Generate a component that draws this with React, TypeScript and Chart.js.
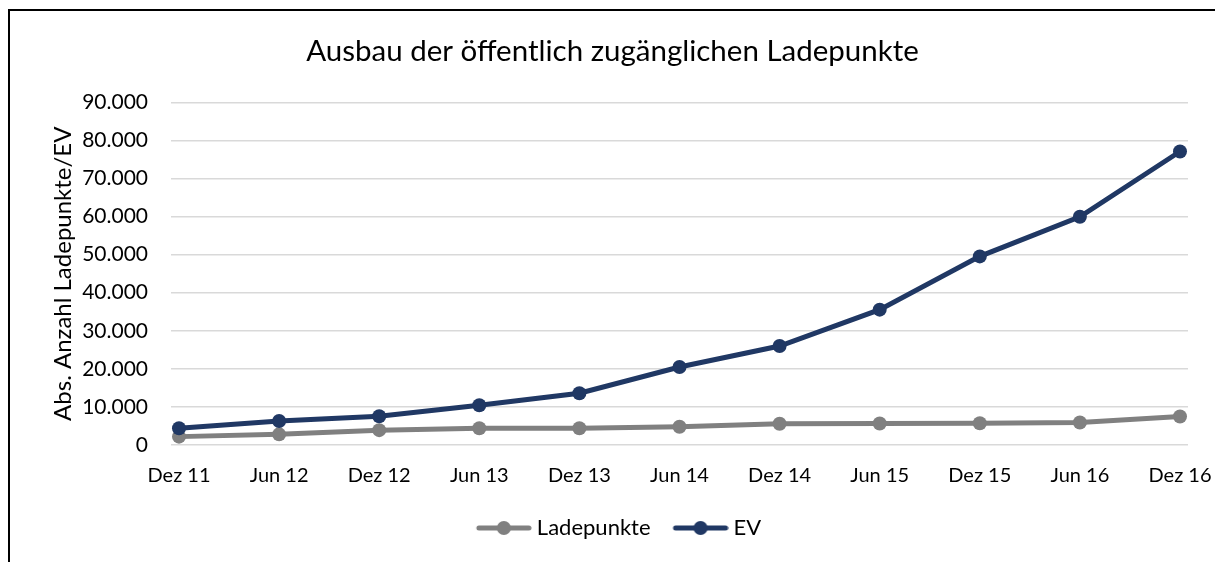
import React, { useEffect, useRef } from "react";
import { Chart, registerables } from "chart.js";

Chart.register(...registerables);

const categories = ["Dez 11", "Jun 12", "Dez 12", "Jun 13", "Dez 13", "Jun 14", "Dez 14", "Jun 15", "Dez 15", "Jun 16", "Dez 16"];
const ladepunkte = [2200, 2800, 3900, 4400, 4400, 4800, 5600, 5650, 5700, 5900, 7500];
const ev = [4400, 6300, 7550, 10450, 13600, 20500, 26000, 35550, 49550, 59950, 77100];
const yTicks = [0, 10000, 20000, 30000, 40000, 50000, 60000, 70000, 80000, 90000];

const FONT = "Lato";
const GRAY = "#808080";
const BLUE = "#203864";

function fmt(v: number): string {
  const s = String(Math.round(v));
  return s.replace(/\B(?=(\d{3})+(?!\d))/g, ".");
}

function legendIcon(color: string): HTMLCanvasElement {
  // visible symbol occupies x 18..74 of a 74px-wide image
  const c = document.createElement("canvas");
  c.width = 74;
  c.height = 16;
  const ctx = c.getContext("2d")!;
  ctx.strokeStyle = color;
  ctx.lineWidth = 5;
  ctx.lineCap = "round";
  ctx.beginPath();
  ctx.moveTo(21, 8);
  ctx.lineTo(71, 8);
  ctx.stroke();
  ctx.fillStyle = color;
  ctx.beginPath();
  ctx.arc(46, 8, 7, 0, Math.PI * 2);
  ctx.fill();
  return c;
}

export default function App() {
  const ref = useRef<HTMLCanvasElement>(null);
  useEffect(() => {
    if (!ref.current) return;
    const icons = [legendIcon(GRAY), legendIcon(BLUE)];
    const mk = (vals: number[]) => vals.map((v, i) => ({ x: i, y: v }));
    const chart = new Chart(ref.current, {
      type: "line",
      data: {
        datasets: [
          {
            label: "Ladepunkte",
            data: mk(ladepunkte),
            borderColor: GRAY,
            backgroundColor: GRAY,
            borderWidth: 5,
            pointRadius: 7,
            pointBorderWidth: 0,
            pointStyle: "circle",
            order: 2,
          },
          {
            label: "EV",
            data: mk(ev),
            borderColor: BLUE,
            backgroundColor: BLUE,
            borderWidth: 5,
            pointRadius: 7,
            pointBorderWidth: 0,
            pointStyle: "circle",
            order: 1,
          },
        ],
      },
      options: {
        animation: false,
        responsive: false,
        layout: { padding: { left: 0, right: 0, top: 0, bottom: 13 } },
        scales: {
          x: {
            type: "linear",
            min: -0.08,
            max: 10.08,
            afterBuildTicks: (s: any) => {
              s.ticks = categories.map((_, i) => ({ value: i }));
            },
            afterFit: (s: any) => {
              s.paddingLeft = 0;
              s.paddingRight = 27;
            },
            grid: { display: false, drawTicks: false },
            border: { display: false },
            ticks: {
              autoSkip: false,
              maxRotation: 0,
              padding: 19,
              color: "#000",
              font: { family: FONT, size: 20 },
              callback: (v: any) => categories[Number(v)] ?? "",
            },
          },
          y: {
            min: 0,
            max: 90000,
            afterBuildTicks: (s: any) => {
              s.ticks = yTicks.map((v) => ({ value: v }));
            },
            afterFit: (s: any) => {
              s.width = 161;
            },
            grid: { color: "#D9D9D9", lineWidth: 1.5, drawTicks: false },
            border: { display: false },
            ticks: {
              padding: 23,
              color: "#000",
              font: { family: FONT, size: 21 },
              callback: (v: any) => fmt(Number(v)),
            },
            title: {
              display: true,
              text: "Abs. Anzahl Ladepunkte/EV",
              color: "#000",
              font: { family: FONT, size: 24 },
              padding: { top: 39, bottom: 0 },
            },
          },
        },
        plugins: {
          title: {
            display: true,
            text: "Ausbau der öffentlich zugänglichen Ladepunkte",
            color: "#000",
            font: { family: FONT, size: 29.5, weight: "normal" },
            padding: { top: 23, bottom: 33 },
          },
          legend: {
            position: "bottom",
            labels: {
              usePointStyle: true,
              pointStyleWidth: 62,
              boxHeight: 16,
              padding: 10,
              color: "#000",
              font: { family: FONT, size: 22 },
              generateLabels: (c: any) =>
                c.data.datasets.map((d: any, i: number) => ({
                  text: d.label,
                  pointStyle: icons[i],
                  fillStyle: d.borderColor,
                  strokeStyle: d.borderColor,
                  lineWidth: 0,
                  hidden: false,
                  datasetIndex: i,
                  fontColor: "#000",
                })),
            },
          },
          tooltip: { enabled: false },
        },
      } as any,
    });
    return () => chart.destroy();
  }, []);
  return (
    <div
      style={{
        position: "fixed",
        left: 8,
        top: 9,
        width: 1207,
        height: 553,
        borderTop: "2px solid #000",
        borderLeft: "2px solid #000",
        boxSizing: "border-box",
        background: "#fff",
      }}
    >
      <canvas ref={ref} width={1205} height={551} style={{ display: "block" }} />
    </div>
  );
}
